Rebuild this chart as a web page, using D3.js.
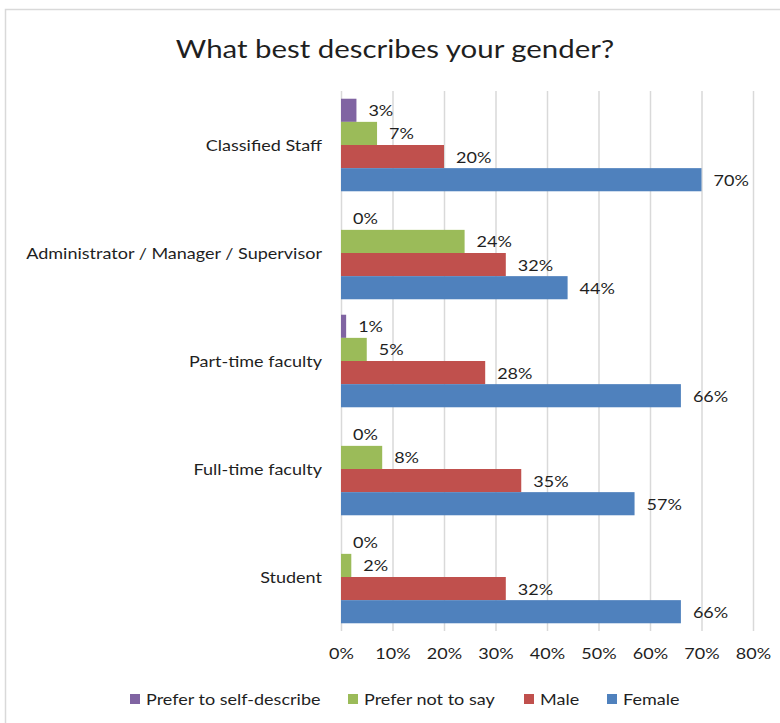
<!DOCTYPE html>
<html>
<head>
<meta charset="utf-8">
<script src="https://cdn.jsdelivr.net/npm/d3@7"></script>
<style>
  html, body { margin: 0; padding: 0; background: #fff; }
  svg { display: block; font-family: Lato, "Open Sans", sans-serif; }
</style>
</head>
<body>
<svg id="chart" width="780" height="723"></svg>
<script>
// Survey responses: share of each group by gender
const categories = ["Classified Staff", "Administrator / Manager / Supervisor", "Part-time faculty", "Full-time faculty", "Student"];
const seriesNames = ["Prefer to self-describe", "Prefer not to say", "Male", "Female"];
const selfDescribe = [0.03, 0.00, 0.01, 0.00, 0.00];
const preferNotToSay = [0.07, 0.24, 0.05, 0.08, 0.02];
const male = [0.20, 0.32, 0.28, 0.35, 0.32];
const female = [0.70, 0.44, 0.66, 0.57, 0.66];
const tickValues = [0, 0.1, 0.2, 0.3, 0.4, 0.5, 0.6, 0.7, 0.8];
const colors = ["#8064A2", "#9BBB59", "#C0504D", "#4F81BD"];

const seriesValues = [selfDescribe, preferNotToSay, male, female];
const rows = categories.map((c, i) => ({
  category: c,
  values: seriesNames.map((s, j) => ({ series: s, value: seriesValues[j][i], color: colors[j] }))
}));

const svg = d3.select("#chart");
const textColor = "#1f1f1f";
const pct = d3.format(".0%");
const textStretch = 1.2; // wide-set lettering used throughout the chart

// Chart frame
svg.append("rect")
  .attr("x", 5.5).attr("y", 9.5)
  .attr("width", 790).attr("height", 730)
  .attr("fill", "#fff")
  .attr("stroke", "#d9d9d9")
  .attr("stroke-width", 1.5);

// Title
svg.append("text")
  .attr("x", 395).attr("y", 48)
  .attr("text-anchor", "middle")
  .attr("dominant-baseline", "central")
  .attr("font-size", 24.5)
  .attr("fill", textColor)
  .text("What best describes your gender?");

const plotLeft = 341, plotRight = 753, plotTop = 91, plotBottom = 631;

const x = d3.scaleLinear().domain([0, 0.8]).range([plotLeft, plotRight]);
const y0 = d3.scaleBand().domain(categories).range([plotTop, plotBottom])
  .paddingInner(0.143).paddingOuter(0.0715);
const y1 = d3.scaleBand().domain(seriesNames).range([0, y0.bandwidth()]);

// Vertical gridlines + value axis labels
const xAxis = d3.axisBottom(x)
  .tickValues(tickValues)
  .tickFormat(pct)
  .tickSize(-(plotBottom - plotTop))
  .tickPadding(17);

const gx = svg.append("g")
  .attr("transform", `translate(0,${plotBottom})`)
  .call(xAxis);
gx.select(".domain").remove();
gx.selectAll(".tick line").attr("stroke", "#d9d9d9").attr("stroke-width", 1.5);
gx.selectAll(".tick text")
  .attr("font-size", 15)
  .attr("font-family", "Lato, sans-serif")
  .attr("fill", textColor);

// Category labels
svg.append("g").selectAll("text")
  .data(categories)
  .join("text")
  .attr("x", 322)
  .attr("y", d => y0(d) + y0.bandwidth() / 2)
  .attr("text-anchor", "end")
  .attr("dominant-baseline", "central")
  .attr("font-size", 15)
  .attr("fill", textColor)
  .text(d => d);

// Bars
const groups = svg.append("g").selectAll("g")
  .data(rows)
  .join("g")
  .attr("transform", d => `translate(0,${y0(d.category)})`);

groups.selectAll("rect")
  .data(d => d.values)
  .join("rect")
  .attr("x", x(0))
  .attr("y", d => y1(d.series))
  .attr("width", d => x(d.value) - x(0))
  .attr("height", y1.bandwidth())
  .attr("fill", d => d.color);

groups.selectAll("text")
  .data(d => d.values)
  .join("text")
  .attr("x", d => x(d.value) + 12)
  .attr("y", d => y1(d.series) + y1.bandwidth() / 2)
  .attr("dominant-baseline", "central")
  .attr("font-size", 15)
  .attr("fill", textColor)
  .text(d => pct(d.value));

// Legend
const legendX = [130, 348, 524, 607];
const legend = svg.append("g").selectAll("g")
  .data(seriesNames)
  .join("g")
  .attr("transform", (d, i) => `translate(${legendX[i]},699)`);

legend.append("rect")
  .attr("x", 0).attr("y", -5)
  .attr("width", 10).attr("height", 10)
  .attr("fill", (d, i) => colors[i]);

legend.append("text")
  .attr("x", 16)
  .attr("y", 0)
  .attr("dominant-baseline", "central")
  .attr("font-size", 15)
  .attr("fill", textColor)
  .text(d => d);

// Widen all lettering uniformly
svg.selectAll("text").each(function () {
  const w = this.getComputedTextLength();
  d3.select(this)
    .attr("textLength", w * textStretch)
    .attr("lengthAdjust", "spacingAndGlyphs");
});
</script>
</body>
</html>
